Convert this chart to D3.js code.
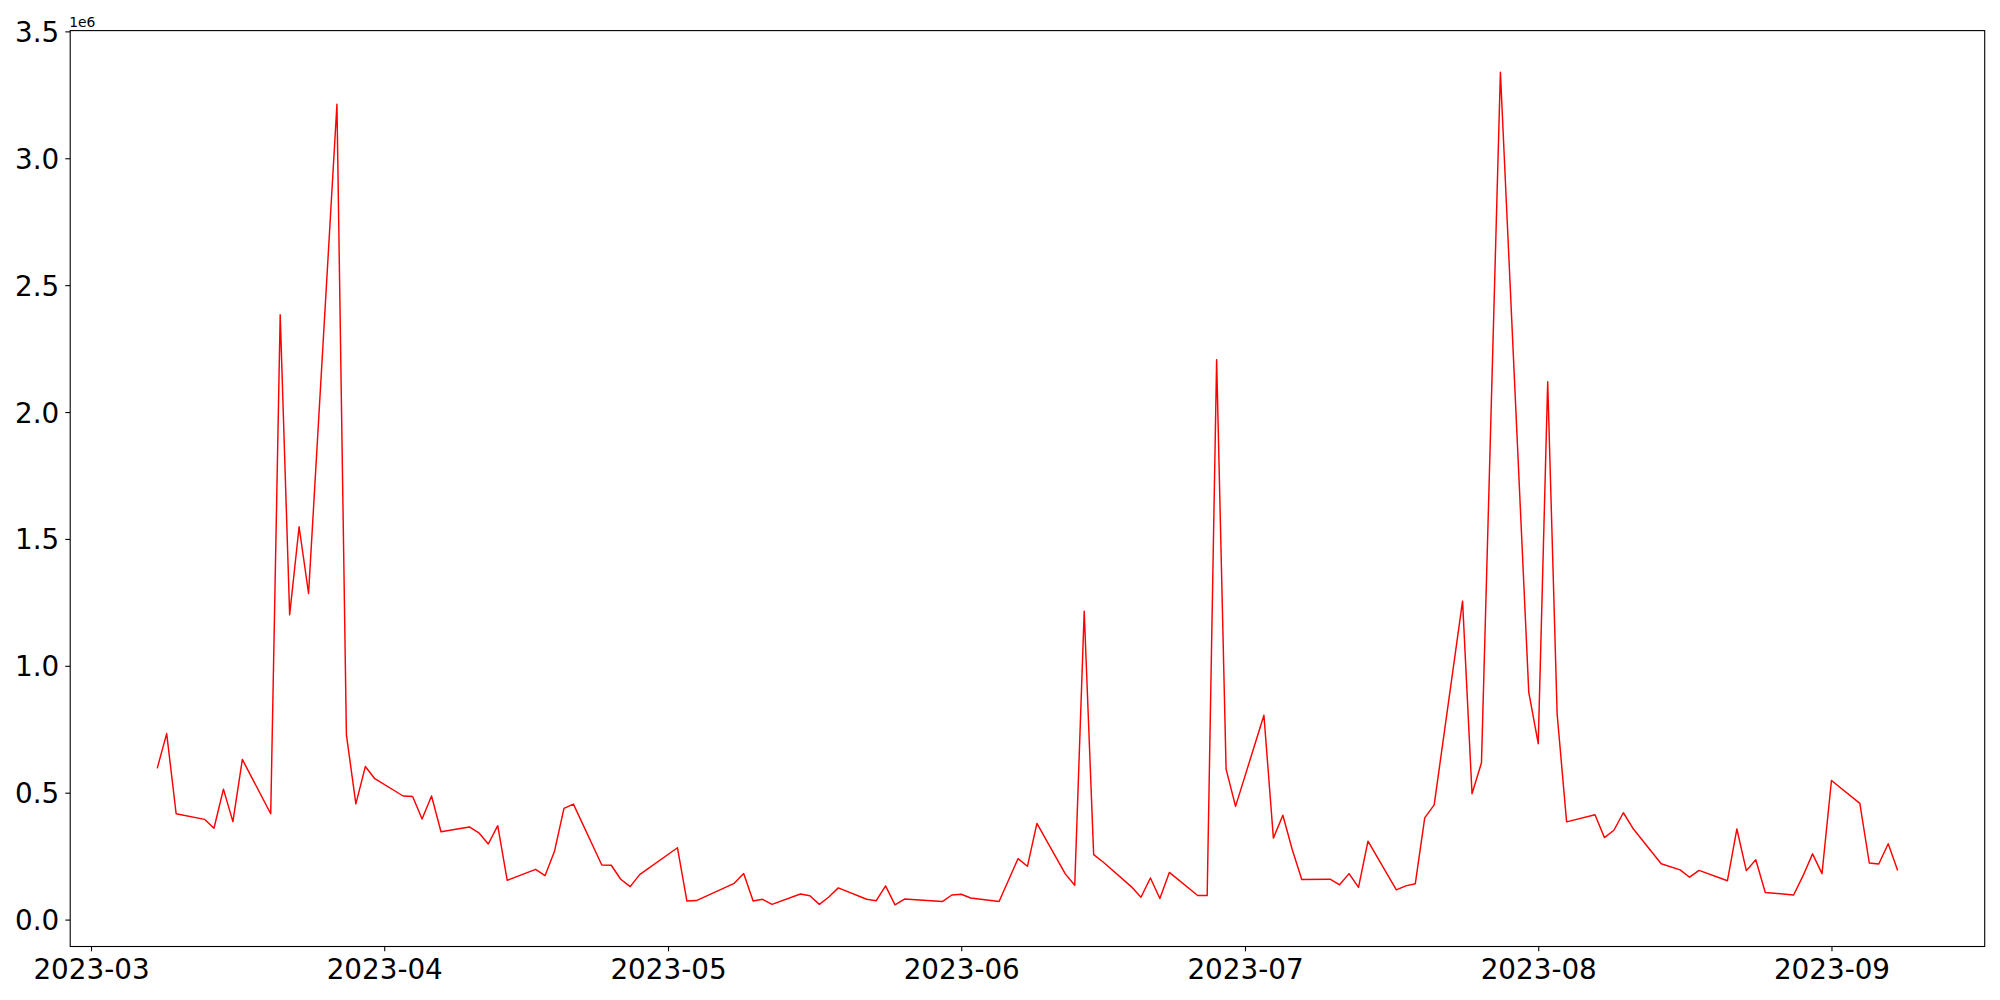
<!DOCTYPE html>
<html>
<head>
<meta charset="utf-8">
<script src="https://cdn.jsdelivr.net/npm/d3@7"></script>
<style>
  html, body { margin: 0; padding: 0; background: #fff; }
  svg { display: block; }
  text { font-family: "DejaVu Sans", sans-serif; fill: #000; }
</style>
</head>
<body>
<svg id="chart" width="2000" height="1000"></svg>
<script>
const dates = [
  "2023-03-08","2023-03-09","2023-03-10","2023-03-13","2023-03-14","2023-03-15","2023-03-16","2023-03-17",
  "2023-03-20","2023-03-21","2023-03-22","2023-03-23","2023-03-24","2023-03-27","2023-03-28","2023-03-29",
  "2023-03-30","2023-03-31","2023-04-03","2023-04-04","2023-04-05","2023-04-06","2023-04-07","2023-04-10",
  "2023-04-11","2023-04-12","2023-04-13","2023-04-14","2023-04-17","2023-04-18","2023-04-19","2023-04-20",
  "2023-04-21","2023-04-24","2023-04-25","2023-04-26","2023-04-27","2023-04-28","2023-05-02","2023-05-03",
  "2023-05-04","2023-05-08","2023-05-09","2023-05-10","2023-05-11","2023-05-12","2023-05-15","2023-05-16",
  "2023-05-17","2023-05-18","2023-05-19","2023-05-22","2023-05-23","2023-05-24","2023-05-25","2023-05-26",
  "2023-05-30","2023-05-31","2023-06-01","2023-06-02","2023-06-05","2023-06-07","2023-06-08","2023-06-09",
  "2023-06-12","2023-06-13","2023-06-14","2023-06-15","2023-06-16","2023-06-19","2023-06-20","2023-06-21",
  "2023-06-22","2023-06-23","2023-06-26","2023-06-27","2023-06-28","2023-06-29","2023-06-30","2023-07-03",
  "2023-07-04","2023-07-05","2023-07-06","2023-07-07","2023-07-10","2023-07-11","2023-07-12","2023-07-13",
  "2023-07-14","2023-07-17","2023-07-18","2023-07-19","2023-07-20","2023-07-21","2023-07-24","2023-07-25",
  "2023-07-26","2023-07-27","2023-07-28","2023-07-31","2023-08-01","2023-08-02","2023-08-03","2023-08-04",
  "2023-08-07","2023-08-08","2023-08-09","2023-08-10","2023-08-11","2023-08-14","2023-08-16","2023-08-17",
  "2023-08-18","2023-08-21","2023-08-22","2023-08-23","2023-08-24","2023-08-25","2023-08-28","2023-08-29",
  "2023-08-30","2023-08-31","2023-09-01","2023-09-04","2023-09-05","2023-09-06","2023-09-07","2023-09-08"
];
const values = [
  596000, 733000, 417000, 395000, 360000, 514000, 386000, 631000,
  417000, 2383000, 1201000, 1548000, 1285000, 3213000, 728000, 456000,
  603000, 555000, 487000, 485000, 396000, 487000, 346000, 365000,
  342000, 298000, 370000, 155000, 198000, 173000, 269000, 438000,
  455000, 215000, 214000, 159000, 130000, 177000, 283000, 73000,
  75000, 143000, 182000, 73000, 80000, 60000, 101000, 94000,
  60000, 89000, 125000, 80000, 74000, 133000, 58000, 81000,
  71000, 97000, 100000, 85000, 71000, 240000, 210000, 379000,
  180000, 135000, 1215000, 256000, 227000, 129000, 88000, 164000,
  83000, 186000, 95000, 95000, 2206000, 593000, 446000, 805000,
  321000, 411000, 275000, 158000, 159000, 137000, 181000, 127000,
  309000, 117000, 133000, 141000, 401000, 452000, 1255000, 496000,
  618000, 1980000, 3339000, 895000, 693000, 2119000, 809000, 385000,
  413000, 323000, 352000, 421000, 360000, 220000, 196000, 167000,
  194000, 153000, 357000, 193000, 236000, 107000, 97000, 173000,
  259000, 181000, 548000, 458000, 223000, 219000, 299000, 193000
];
const yTickValues = [0, 500000, 1000000, 1500000, 2000000, 2500000, 3000000, 3500000];
const xTickDates = ["2023-03-01","2023-04-01","2023-05-01","2023-06-01","2023-07-01","2023-08-01","2023-09-01"];
const offsetLabel = "1e6";

(function () {
  const parse = d3.utcParse("%Y-%m-%d");
  const data = dates.map((d, i) => ({ date: parse(d), value: values[i] }));

  const plotLeft = 70.2, plotRight = 1984.7, plotTop = 30.6, plotBottom = 946.5;
  const svg = d3.select("#chart");

  // matplotlib-like 5% margins
  const tExt = d3.extent(data, d => +d.date);
  const tPad = (tExt[1] - tExt[0]) * 0.05;
  const vExt = d3.extent(values);
  const vPad = (vExt[1] - vExt[0]) * 0.05;

  const x = d3.scaleUtc().domain([new Date(tExt[0] - tPad), new Date(tExt[1] + tPad)]).range([plotLeft, plotRight]);
  const y = d3.scaleLinear().domain([vExt[0] - vPad, vExt[1] + vPad]).range([plotBottom, plotTop]);

  const tickLen = 4.86;
  const fontSize = 27.8;

  // line
  const line = d3.line().x(d => x(d.date)).y(d => y(d.value));
  svg.append("path")
    .datum(data)
    .attr("d", line)
    .attr("fill", "none")
    .attr("stroke", "#ff0000")
    .attr("stroke-width", 1.45)
    .attr("stroke-linejoin", "round");

  // x axis
  const xAxis = d3.axisBottom(x)
    .tickValues(xTickDates.map(parse))
    .tickFormat(d3.utcFormat("%Y-%m"))
    .tickSize(tickLen)
    .tickPadding(4.86);
  const gx = svg.append("g").attr("transform", `translate(0,${plotBottom})`).call(xAxis);
  gx.select(".domain").remove();
  gx.selectAll(".tick line").attr("stroke", "#000").attr("stroke-width", 1.1);
  gx.selectAll(".tick text")
    .attr("font-family", "DejaVu Sans")
    .attr("font-size", fontSize)
    .attr("fill", "#000")
    .attr("y", 32.5)
    .attr("dy", null);

  // y axis
  const yAxis = d3.axisLeft(y)
    .tickValues(yTickValues)
    .tickFormat(d => (d / 1e6).toFixed(1))
    .tickSize(tickLen)
    .tickPadding(4.86);
  const gy = svg.append("g").attr("transform", `translate(${plotLeft},0)`).call(yAxis);
  gy.select(".domain").remove();
  gy.selectAll(".tick line").attr("stroke", "#000").attr("stroke-width", 1.1);
  gy.selectAll(".tick text")
    .attr("font-family", "DejaVu Sans")
    .attr("font-size", fontSize)
    .attr("fill", "#000")
    .attr("x", -11)
    .attr("dy", "0.36em");

  // spines
  svg.append("rect")
    .attr("x", plotLeft).attr("y", plotTop)
    .attr("width", plotRight - plotLeft).attr("height", plotBottom - plotTop)
    .attr("fill", "none").attr("stroke", "#000").attr("stroke-width", 1.1);

  // offset text
  svg.append("text")
    .attr("x", plotLeft - 1)
    .attr("y", 26.5)
    .attr("font-family", "DejaVu Sans")
    .attr("font-size", 13.9)
    .text(offsetLabel);
})();
</script>
</body>
</html>
